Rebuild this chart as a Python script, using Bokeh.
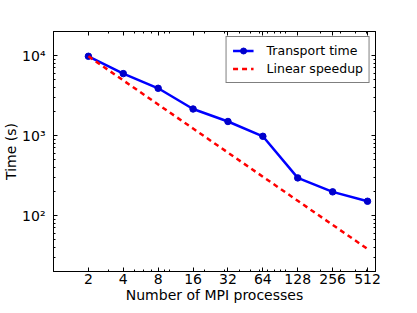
from bokeh.plotting import figure
from bokeh.models import Range1d, FixedTicker, LogAxis, Legend, LegendItem
from bokeh.embed import file_html
from bokeh.resources import INLINE

# Data
procs = [2, 4, 8, 16, 32, 64, 128, 256, 512]
transport_time = [9800, 5950, 3900, 2150, 1500, 980, 296, 198, 151]
linear_speedup = [9800 * 2 / n for n in procs]

x_tick_labels = ["2", "4", "8", "16", "32", "64", "128", "256", "512"]
y_ticks = [100, 1000, 10000]
y_tick_labels = ["10²", "10³", "10⁴"]

x_minor = [3, 5, 6, 7, 9, 10, 20, 30, 40, 50, 60, 70, 80, 90, 100,
           200, 300, 400, 500]
y_minor = [m * d for d in (10, 100, 1000) for m in range(2, 10)] + [20000]

FONT = "DejaVu Sans"

p = figure(width=417, height=313, x_axis_type="log", y_axis_type="log",
           x_range=Range1d(1, 600), y_range=Range1d(20, 20000),
           output_backend="svg", toolbar_location=None,
           min_border_left=52, min_border_top=31, min_border_right=42,
           min_border_bottom=42)

p.grid.visible = False
p.outline_line_color = "black"
p.outline_line_width = 1
p.background_fill_color = "white"
p.border_fill_color = "white"

xt = FixedTicker(ticks=procs, minor_ticks=x_minor)
yt = FixedTicker(ticks=y_ticks, minor_ticks=y_minor)

def style(ax, labels=True):
    ax.major_tick_in = 4
    ax.major_tick_out = 0
    ax.minor_tick_in = 2
    ax.minor_tick_out = 0
    ax.axis_line_color = "black"
    ax.major_tick_line_color = "black"
    ax.minor_tick_line_color = "black"
    ax.major_label_text_font = FONT
    ax.major_label_text_color = "black"
    ax.axis_label_text_font = FONT
    ax.axis_label_text_font_style = "normal"
    ax.axis_label_text_color = "black"
    ax.major_label_text_font_size = "14px"
    ax.axis_label_text_font_size = "14px"
    if not labels:
        ax.major_label_text_alpha = 0
        ax.major_label_text_font_size = "2px"
        ax.major_label_standoff = 0

xa = p.xaxis[0]
xa.ticker = xt
xa.major_label_overrides = {v: s for v, s in zip(procs, x_tick_labels)}
xa.axis_label = "Number of MPI processes"
style(xa)
xa.major_label_standoff = 2
xa.axis_label_standoff = 0

ya = p.yaxis[0]
ya.ticker = yt
ya.major_label_overrides = {v: s for v, s in zip(y_ticks, y_tick_labels)}
ya.axis_label = "Time (s)"
style(ya)
ya.major_label_standoff = 8
ya.axis_label_standoff = 0

top = LogAxis(ticker=FixedTicker(ticks=procs, minor_ticks=x_minor))
style(top, labels=False)
p.add_layout(top, "above")
right = LogAxis(ticker=FixedTicker(ticks=y_ticks, minor_ticks=y_minor))
style(right, labels=False)
p.add_layout(right, "right")

r_line = p.line(procs, transport_time, line_color="#0000ff", line_width=2.5)
r_pts = p.scatter(procs, transport_time, size=6.5, marker="circle",
                  fill_color="#0000cc", line_color="#0000cc")
r_lin = p.line(procs, linear_speedup, line_color="#ff0000", line_width=2.5,
               line_dash="5 4")

legend = Legend(items=[LegendItem(label="Transport time", renderers=[r_line, r_pts]),
                       LegendItem(label="Linear speedup", renderers=[r_lin])],
                location="top_right")
legend.label_text_font = FONT
legend.label_text_font_size = "12.5px"
legend.label_text_color = "black"
legend.border_line_color = "black"
legend.border_line_width = 1
legend.background_fill_alpha = 1
legend.padding = 6
legend.spacing = 3
legend.margin = 5
legend.glyph_width = 21
legend.glyph_height = 15
legend.label_height = 15
legend.label_standoff = 13
p.add_layout(legend)

open("out.html", "w").write(file_html(p, INLINE))
